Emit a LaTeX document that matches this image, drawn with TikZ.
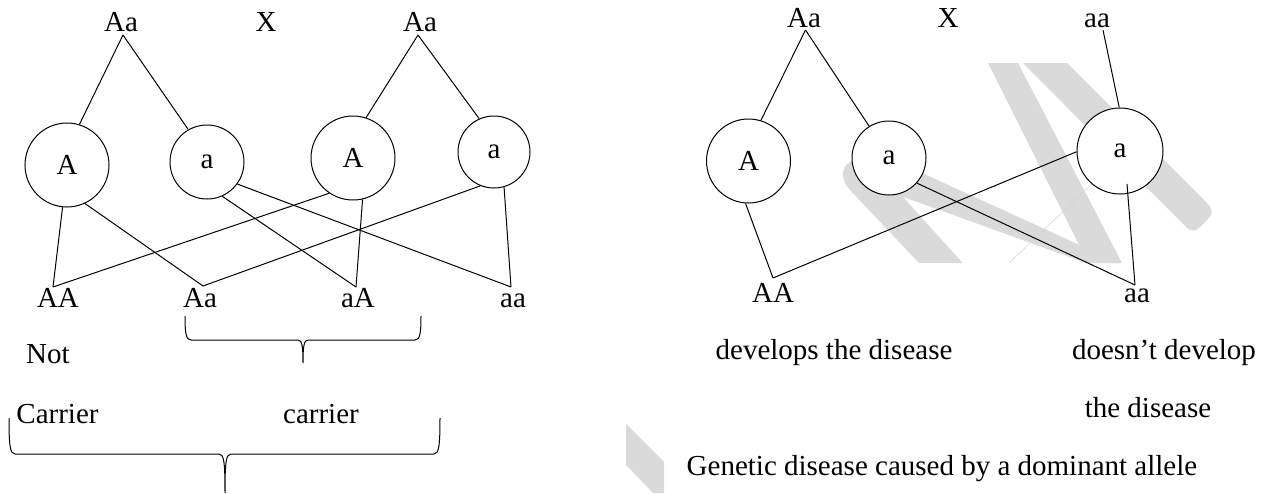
\documentclass[tikz,border=0pt]{standalone}
\usepackage{fontspec}
\setmainfont{Liberation Serif}
\definecolor{wm}{HTML}{DADADA}
\definecolor{wmline}{HTML}{D2D2D2}
\begin{document}
\begin{tikzpicture}[x=1pt,y=-1pt,
  every node/.style={font=\fontsize{29pt}{34pt}\selectfont, inner sep=0pt},
  lab/.style={anchor=base},
  allele/.style={circle, draw, fill=white, line width=1pt},
  conn/.style={line width=1pt},
  bracket/.style={line width=1pt}]
\useasboundingbox (0,0) rectangle (1267,493);

% faint watermark
\begin{scope}
  \clip (800,63) rectangle (1260,263);
  \fill[wm] (919,263) -- (850,190) .. controls (838,177) and (842,163) .. (855,160)
    -- (870,149.2) -- (922.7,173.3) -- (1119,263) -- (1086,263) -- (902.7,196.7)
    -- (962.7,263) -- cycle;
  \fill[wm] (988,63) -- (1018,63) -- (1122,263) -- (1088,263) -- cycle;
  \fill[wm] (1023,63) -- (1067,63) -- (1207,203) .. controls (1213,209) and (1213,214) .. (1208,219)
    -- (1200,227) .. controls (1195,232) and (1190,231) .. (1186,227) -- cycle;
  \draw[wmline, line width=0.5pt] (1009,263) -- (1093,183);
\end{scope}
\fill[wm] (626,424) -- (664,462) -- (664,493) -- (653,493) -- (626,465) -- cycle;

% ---------- left cross: Aa x Aa ----------
\node[lab] (pl1) at (121,31) {Aa};
\node[lab] (xl)  at (266,31) {X};
\node[lab] (pl2) at (420,31) {Aa};
\coordinate (ap1) at (123,35);
\coordinate (ap2) at (418,35);

\node[allele, minimum size=84pt] (L1) at (67,165) {A};
\node[allele, minimum size=74pt] (L2) at (207,162) {a};
\node[allele, minimum size=84pt] (L3) at (353,158) {A};
\node[allele, minimum size=72pt] (L4) at (494,152) {a};

\node[lab] (gAA) at (58,307) {AA};
\node[lab] (gAa) at (200,307) {Aa};
\node[lab] (gaA) at (358,307) {aA};
\node[lab] (gaa) at (513,307) {aa};
\coordinate (pAA) at (53,287);
\coordinate (pAa) at (203,286);
\coordinate (paA) at (356,287);
\coordinate (paa) at (511,287);

\draw[conn] (ap1) -- (L1.73.7);
\draw[conn] (ap1) -- (L2.120.6);
\draw[conn] (ap2) -- (L3.72.4);
\draw[conn] (ap2) -- (L4.114.4);
\draw[conn] (L1.264) -- (pAA);
\draw[conn] (L1.-65.3) -- (pAa);
\draw[conn] (L2.-66.2) -- (paA);
\draw[conn] (L2.-36) -- (paa);
\draw[conn] (L3.-124) -- (pAA);
\draw[conn] (L3.-77) -- (paA);
\draw[conn] (L4.-112.4) -- (pAa);
\draw[conn] (L4.-74.5) -- (paa);

\draw[bracket] (185,316) .. controls (185,333) and (186,340) .. (191,340) -- (298,340)
  .. controls (302,340) and (303,346) .. (303,363)
  .. controls (303,346) and (304,340) .. (308,340) -- (415,340)
  .. controls (420,340) and (421,333) .. (421,316);
\node[lab] (tnot) at (48,363) {Not};
\node[lab] (tcar1) at (57.5,423) {Carrier};
\node[lab] (tcar2) at (321,423) {carrier};
\draw[bracket] (9,418) .. controls (9,445) and (10,454) .. (15,454) -- (219,454)
  .. controls (224,454) and (225,462) .. (225,493)
  .. controls (225,462) and (226,454) .. (231,454) -- (434,454)
  .. controls (439,454) and (440,445) .. (440,418);

% ---------- right cross: Aa x aa ----------
\node[lab] (pr1) at (804,27) {Aa};
\node[lab] (xr)  at (948,27) {X};
\node[lab] (pr2) at (1097,27) {aa};
\coordinate (ap3) at (805.5,30);
\coordinate (ap4) at (1103,30);

\node[allele, minimum size=84pt] (R1) at (748.5,161) {A};
\node[allele, minimum size=74pt] (R2) at (889,158) {a};
\node[allele, minimum size=86pt] (R3) at (1120,151) {a};
\coordinate (cin) at (1127,184);

\node[lab] (hAA) at (773,302) {AA};
\node[lab] (haa) at (1137,302) {aa};
\coordinate (qAA) at (773,278);
\coordinate (qaa) at (1135,285);

\draw[conn] (ap3) -- (R1.73.7);
\draw[conn] (ap3) -- (R2.122);
\draw[conn] (ap4) -- (R3.91.3);
\draw[conn] (R1.-94.7) -- (qAA);
\draw[conn] (qAA) -- (R3.181.3);
\draw[conn] (R2.-42.9) -- (qaa);
\draw[conn] (cin) -- (qaa);

\node[lab] (tdev) at (834,359) {develops the disease};
\node[lab] (tnodev1) at (1164,359) {doesn’t develop};
\node[lab] (tnodev2) at (1148,417) {the disease};
\node[anchor=base west] (tcap) at (686.5,475) {Genetic disease caused by a dominant allele};
\end{tikzpicture}
\end{document}
